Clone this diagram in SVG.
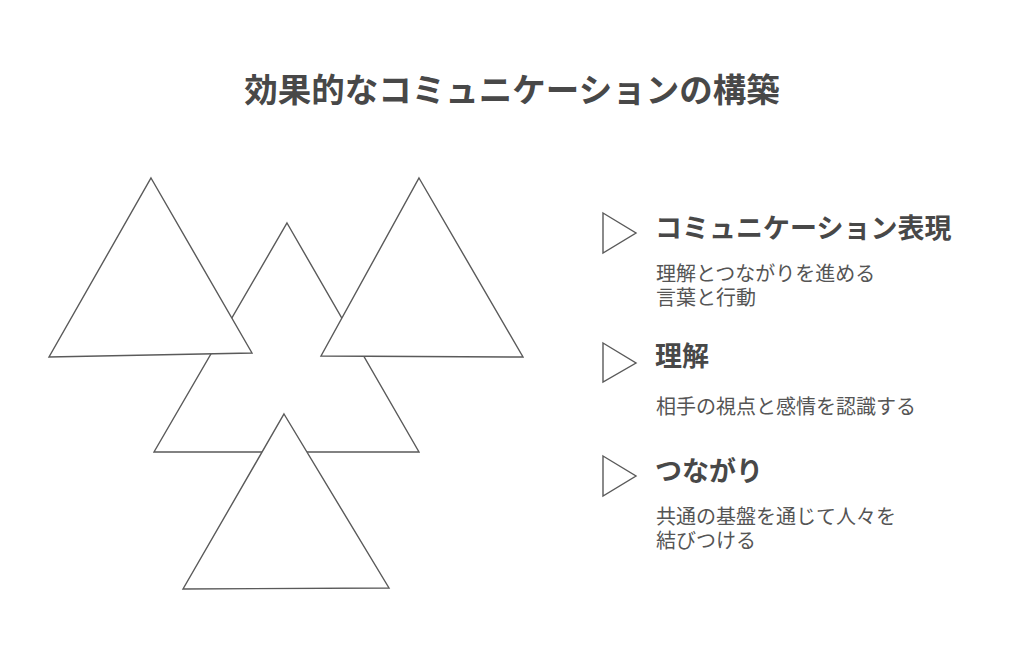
<svg xmlns="http://www.w3.org/2000/svg" width="1024" height="671" viewBox="0 0 1024 671">
<style>
  .tri { fill: #ffffff; stroke: #5a5a5a; stroke-width: 1.4; stroke-linejoin: miter; }
  .mk { fill: #ffffff; stroke: #5a5a5a; stroke-width: 1.4; }
  .title { font-family: "Noto Sans CJK JP", "Noto Sans", sans-serif; font-weight: bold; font-size: 33.5px; fill: #484848; }
  .head { font-family: "Noto Sans CJK JP", "Noto Sans", sans-serif; font-weight: bold; font-size: 27px; fill: #484848; }
  .body { font-family: "Noto Sans CJK JP", "Noto Sans", sans-serif; font-size: 20px; fill: #555555; }
</style>
<rect width="1024" height="671" fill="#ffffff"/>
<text class="title" x="512" y="102" text-anchor="middle">効果的なコミュニケーションの構築</text>
<g id="shapes">
  <g id="tri-middle"><polygon class="tri" points="287,223 419,452 154,452"/></g>
  <g id="tri-left"><polygon class="tri" points="151,178 252,353 49,357"/></g>
  <g id="tri-right"><polygon class="tri" points="419,178 523,357 321,356"/></g>
  <g id="tri-bottom"><polygon class="tri" points="284,414 389,588 183,589"/></g>
</g>
<g id="connectors"></g>
<g id="item1">
  <polygon class="mk" points="603,213 636,233 603,253"/>
  <text class="head" x="655" y="238">コミュニケーション表現</text>
  <text class="body" x="656" y="281">理解とつながりを進める</text>
  <text class="body" x="656" y="305">言葉と行動</text>
</g>
<g id="item2">
  <polygon class="mk" points="603,343 636,363 603,382"/>
  <text class="head" x="655" y="366">理解</text>
  <text class="body" x="656" y="414">相手の視点と感情を認識する</text>
</g>
<g id="item3">
  <polygon class="mk" points="603,456 636,476 603,496"/>
  <text class="head" x="655" y="481">つながり</text>
  <text class="body" x="656" y="524">共通の基盤を通じて人々を</text>
  <text class="body" x="656" y="548">結びつける</text>
</g>
</svg>
